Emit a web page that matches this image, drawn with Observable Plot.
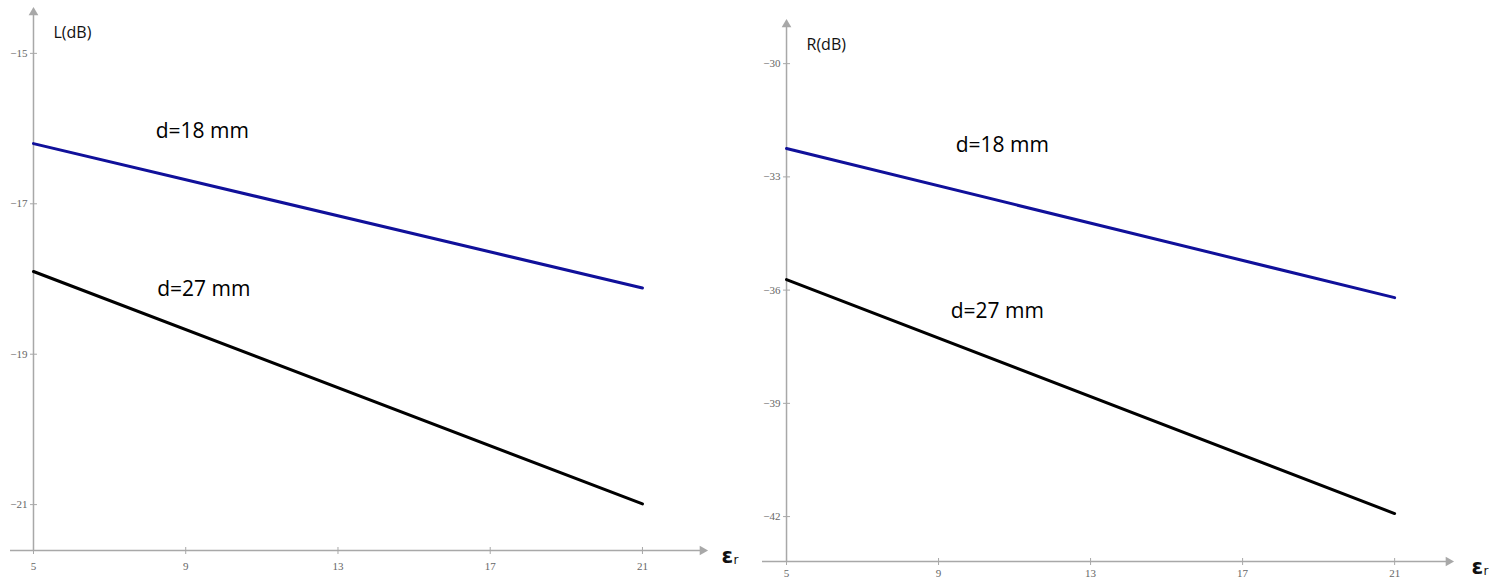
<!DOCTYPE html>
<html>
<head>
<meta charset="utf-8">
<script src="https://cdn.jsdelivr.net/npm/d3@7"></script>
<script src="https://cdn.jsdelivr.net/npm/@observablehq/plot@0.6"></script>
<style>
  html, body { margin: 0; padding: 0; background: #fff; }
  #wrap { position: relative; width: 1501px; height: 579px; overflow: hidden; background: #fff; }
  #left { position: absolute; left: 0; top: 0; }
  #right { position: absolute; left: 740px; top: 0; }
</style>
</head>
<body>
<div id="wrap"><div id="left"></div><div id="right"></div></div>
<script>
// ---- data ----
const epsR = [5, 21];                       // relative permittivity (x)
const xTicks = [5, 9, 13, 17, 21];
const seriesNames = ["d=18 mm", "d=27 mm"];
// Left panel: L(dB)
const L_d18 = [-16.20, -18.12];
const L_d27 = [-17.90, -20.99];
const L_ticks = [-15, -17, -19, -21];
// Right panel: R(dB)
const R_d18 = [-32.25, -36.20];
const R_d27 = [-35.72, -41.92];
const R_ticks = [-30, -33, -36, -39, -42];

// ---- styles / layout ----
const BLUE = "#10109a";
const AXIS = "#a8a8a8";
const fmt = d3.format("d");

const vTick = { draw(ctx) { ctx.moveTo(0, -3.5); ctx.lineTo(0, 3.5); } };
const hTick = { draw(ctx) { ctx.moveTo(-3.5, 0); ctx.lineTo(3.5, 0); } };

function panel(cfg) {
  const { xdom, ydom } = cfg;
  const pts = (ys) => epsR.map((x, i) => ({ x, y: ys[i] }));
  return Plot.plot({
    width: cfg.width, height: cfg.height,
    marginLeft: cfg.ml, marginRight: cfg.mr, marginTop: cfg.mt, marginBottom: cfg.mb,
    x: { domain: xdom, axis: null },
    y: { domain: ydom, axis: null },
    style: { background: "white", overflow: "visible" },
    marks: [
      // x axis line with arrow
      Plot.ruleY([ydom[0]], { x1: xdom[0], x2: xdom[1], stroke: AXIS, strokeWidth: 1.5 }),
      Plot.dot([0], { x: xdom[1], y: ydom[0], symbol: "triangle", rotate: 90, r: 3.6, fill: AXIS, dx: -2 }),
      // y axis line with arrow
      Plot.ruleX([epsR[0]], { y1: ydom[0], y2: ydom[1], stroke: AXIS, strokeWidth: 1.5 }),
      Plot.dot([0], { x: epsR[0], y: ydom[1], symbol: "triangle", r: 3.6, fill: AXIS, dy: 2 }),
      // tick marks
      Plot.dot(xTicks, { x: d => d, y: ydom[0], symbol: vTick, stroke: AXIS, strokeWidth: 1 }),
      Plot.dot(cfg.yTicks, { x: epsR[0], y: d => d, symbol: hTick, stroke: AXIS, strokeWidth: 1 }),
      // tick labels
      Plot.text(xTicks, { x: d => d, y: ydom[0], dy: cfg.xLabDy, text: d => fmt(d),
        fontFamily: "Liberation Serif", fontSize: 11, fill: "#666" }),
      Plot.text(cfg.yTicks, { x: epsR[0], y: d => d, dx: -6, text: d => fmt(d), textAnchor: "end",
        fontFamily: "Liberation Serif", fontSize: 11, fill: "#666" }),
      // series
      Plot.line(pts(cfg.s18), { x: "x", y: "y", stroke: BLUE, strokeWidth: 3 }),
      Plot.line(pts(cfg.s27), { x: "x", y: "y", stroke: "#000", strokeWidth: 3 }),
      // series labels
      Plot.text([seriesNames[0]], { x: cfg.lab18[0], y: cfg.lab18[1], text: d => d, textAnchor: "start",
        fontFamily: "Open Sans", fontSize: 21, fill: "#000" }),
      Plot.text([seriesNames[1]], { x: cfg.lab27[0], y: cfg.lab27[1], text: d => d, textAnchor: "start",
        fontFamily: "Open Sans", fontSize: 21, fill: "#000" }),
      // axis titles
      Plot.text([cfg.ylab], { x: epsR[0], y: ydom[1], dx: 20, dy: 22, text: d => d, textAnchor: "start",
        fontFamily: "Open Sans", fontSize: 16, fill: "#111" }),
      Plot.text(["ε"], { x: xdom[1], y: ydom[0], dx: cfg.epsDx, dy: cfg.epsDy, text: d => d, textAnchor: "start",
        fontFamily: "DejaVu Sans", fontSize: 21, fontWeight: "bold", fill: "#111" }),
      Plot.text(["r"], { x: xdom[1], y: ydom[0], dx: cfg.epsDx + 12, dy: cfg.epsDy + 4, text: d => d, textAnchor: "start",
        fontFamily: "DejaVu Sans", fontSize: 12, fill: "#111" })
    ]
  });
}

document.getElementById("left").append(panel({
  width: 740, height: 579, ml: 10, mr: 36, mt: 10, mb: 29,
  xdom: [4.396, 22.63], ydom: [-21.61, -14.43],
  yTicks: L_ticks, s18: L_d18, s27: L_d27,
  lab18: [8.21, -16.04], lab27: [8.25, -18.14],
  ylab: "L(dB)", xLabDy: 16, epsDx: 17, epsDy: 6
}));

document.getElementById("right").append(panel({
  width: 761, height: 579, ml: 22, mr: 51, mt: 22, mb: 18,
  xdom: [4.368, 22.47], ydom: [-43.19, -28.91],
  yTicks: R_ticks, s18: R_d18, s27: R_d27,
  lab18: [9.45, -32.17], lab27: [9.32, -36.57],
  ylab: "R(dB)", xLabDy: 12, epsDx: 21, epsDy: 6
}));
</script>
</body>
</html>
